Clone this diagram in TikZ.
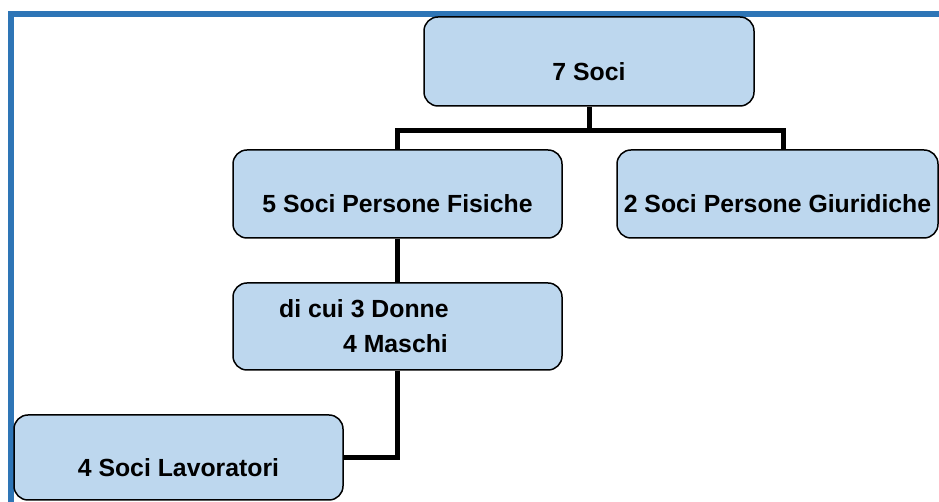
\documentclass[tikz,border=0pt]{standalone}
\usepackage{fontspec}
\setmainfont{Liberation Sans}
\tikzset{
  card/.style={
    draw=black,
    line width=1.5pt,
    fill=cardblue,
    rounded corners=14pt,
    inner sep=3pt,
    minimum width=329pt,
    minimum height=88pt,
    font=\bfseries\fontsize{24.8}{35}\selectfont
  },
  card-one/.style={card, text height=38pt, text depth=0pt},
  link/.style={line width=5pt, draw=black},
  frame-blue/.style={line width=6pt, draw=frameblue}
}
\definecolor{cardblue}{RGB}{189,215,238}
\definecolor{frameblue}{RGB}{46,117,182}
\newcommand{\orgframe}{
  \useasboundingbox (0,0) rectangle (939,502);
  \draw[frame-blue] (11,0) -- (11,488) -- (939,488);
}

\begin{document}
\begin{tikzpicture}[x=1pt,y=1pt]
  \orgframe
  % top level
  \node[card-one, minimum width=330pt, minimum height=89pt] (soci) at (589,440.5) {7 Soci};
  % second level
  \node[card-one] (fisiche) at (397.5,308) {5 Soci Persone Fisiche};
  \node[card-one, minimum width=321pt] (giuridiche) at (777.5,308) {2 Soci Persone Giuridiche};
  % third and fourth level
  \node[card, align=left, minimum height=87pt] (donne) at (397.5,175.5)
    {di cui 3 Donne\\\hspace*{64pt}4 Maschi\hspace*{68pt}};
  \node[card-one, minimum height=85pt] (lavoratori) at (178.5,44.5) {4 Soci Lavoratori};
  % tree lines
  \draw[link] (soci.south) -- ++(0,-24) coordinate (bar);
  \draw[link] (fisiche.north) |- (bar) -| ([xshift=5.5pt]giuridiche.north);
  \draw[link] (fisiche.south) -- (donne.north);
  \draw[link] (donne.south) |- (lavoratori.east);
\end{tikzpicture}
\end{document}
